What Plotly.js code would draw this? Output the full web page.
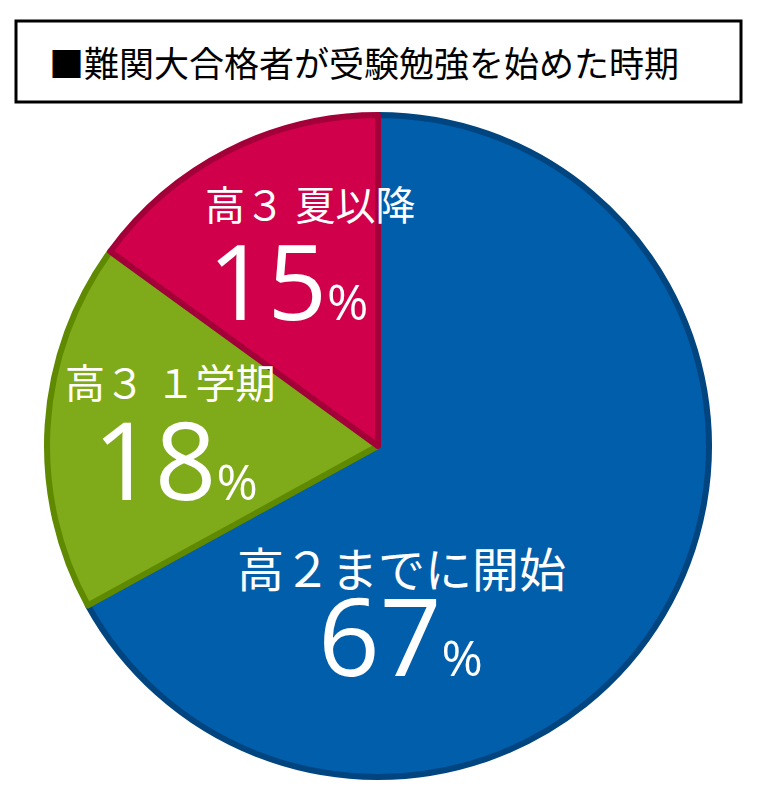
<!DOCTYPE html>
<html>
<head>
<meta charset="utf-8">
<script src="https://cdn.plot.ly/plotly-3.0.1.min.js"></script>
<style>
  html, body { margin: 0; padding: 0; background: #fff; }
  #chart { width: 759px; height: 787px; }
</style>
</head>
<body>
<div id="chart"></div>
<script>
/* global Plotly */
const W = 759;
const H = 787;

const TITLE = '■難関大合格者が受験勉強を始めた時期';
const LABELS = ['高２までに開始', '高３ １学期', '高３ 夏以降'];
const VALUES = [67, 18, 15];
const COLORS = ['#005eaa', '#7faa1a', '#d0004a'];
const EDGE_COLORS = ['#00457f', '#5f8a00', '#a3003a'];

// label anchor points in pixels: [name x, name y, value x, value y]
const LABEL_POS = [
  [401, 569, 400, 634],
  [170, 383, 175, 458],
  [310, 205, 288, 279]
];
const NAME_SIZE = [47, 40, 40];
const VALUE_SIZE = [108, 108, 104];

const FONT = 'Open Sans, Noto Sans CJK JP, sans-serif';

function px(x) { return x / W; }
function py(y) { return 1 - y / H; }

// pie centre and radius in pixels
const CX = 378, CY = 446, R = 331;

const trace = {
  type: 'pie',
  labels: LABELS,
  values: VALUES,
  sort: false,
  direction: 'clockwise',
  rotation: 0,
  textinfo: 'none',
  hoverinfo: 'label+percent',
  marker: {
    colors: COLORS,
    line: { color: EDGE_COLORS, width: 6 }
  },
  domain: {
    x: [px(CX - R), px(CX + R)],
    y: [py(CY + R), py(CY - R)]
  }
};

const annotations = [{
  xref: 'paper', yref: 'paper',
  x: px(47), y: py(61),
  xanchor: 'left', yanchor: 'middle',
  text: TITLE,
  showarrow: false,
  font: { family: 'Noto Sans CJK JP, sans-serif', size: 35, color: '#000' }
}];

for (let i = 0; i < LABELS.length; i++) {
  const [nx, ny, vx, vy] = LABEL_POS[i];
  annotations.push({
    xref: 'paper', yref: 'paper',
    x: px(nx), y: py(ny),
    xanchor: 'center', yanchor: 'middle',
    text: LABELS[i],
    showarrow: false,
    font: { family: FONT, size: NAME_SIZE[i], color: '#fff' }
  });
  annotations.push({
    xref: 'paper', yref: 'paper',
    x: px(vx), y: py(vy),
    xanchor: 'center', yanchor: 'middle',
    text: VALUES[i] + '<span style="font-size:50px">%</span>',
    showarrow: false,
    font: { family: FONT, size: VALUE_SIZE[i], color: '#fff' }
  });
}

const layout = {
  width: W,
  height: H,
  margin: { l: 0, r: 0, t: 0, b: 0 },
  paper_bgcolor: '#fff',
  showlegend: false,
  shapes: [{
    type: 'rect',
    xref: 'paper', yref: 'paper',
    x0: px(16), x1: px(741),
    y0: py(102), y1: py(21),
    line: { color: '#000', width: 3 },
    fillcolor: 'rgba(0,0,0,0)'
  }],
  annotations: annotations
};

Plotly.newPlot('chart', [trace], layout, { displayModeBar: false, staticPlot: true });
</script>
</body>
</html>
